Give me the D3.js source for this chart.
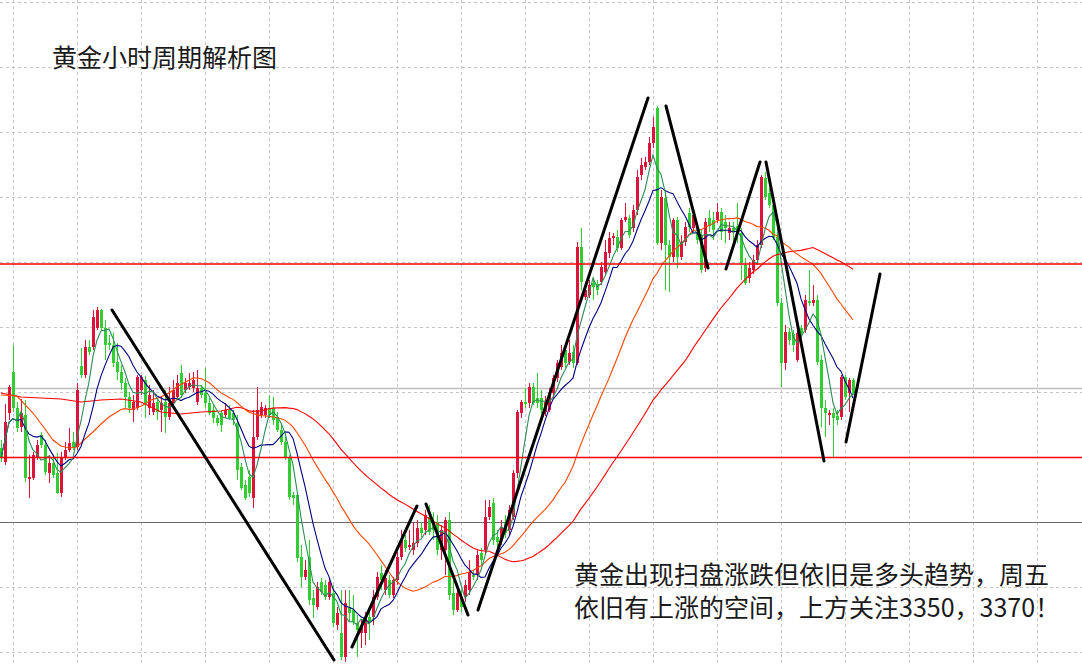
<!DOCTYPE html>
<html><head><meta charset="utf-8">
<script src="https://cdn.jsdelivr.net/npm/d3@7"></script>
<style>html,body{margin:0;padding:0;background:#fff;overflow:hidden}svg{display:block}</style>
</head><body><div id="chart"></div>
<script>
// ---------------- DATA (hourly gold, bar index 0..213) ----------------
const opens = [
3310.4,3307.6,3317.4,3325.6,3318.4,3314.6,3317,3304.2,3304.4,3308.6,
3313,3311,3305.4,3307.4,3305.4,3301.4,3308.6,3310,3311.6,3310.6,
3326.8,3325,3330.6,3330.6,3334.4,3338,3334.4,3331.4,3331,3327.6,
3325.6,3323.4,3320.6,3318,3318.4,3322,3324,3318.4,3317.6,3319.6,
3318,3319.6,3316.6,3319.4,3320.6,3325.4,3322,3322.6,3322.4,3319.6,
3322.4,3321.4,3319.4,3318,3316.4,3317.4,3317,3318,3317.4,3315.4,
3306.6,3303,3304.6,3300.4,3312.6,3317,3317,3318.4,3318.4,3316.6,
3314,3311.6,3308.4,3301,3301,3288.6,3284.6,3288.6,3280.4,3278.6,
3283.6,3283,3280.6,3281.4,3275,3273.4,3268.6,3278.6,3278,3275.4,
3273.4,3273.4,3276.6,3276.6,3280.6,3285.4,3282,3284,3281,3284,
3288.6,3292,3290.6,3290,3291.4,3294.4,3294,3296.6,3295.6,3295.4,
3290,3290,3296,3281.4,3278,3280.6,3280.6,3282,3285,3285,
3289.4,3290,3296.6,3299.4,3292.6,3292,3295.4,3294,3296.6,3305.4,
3317.4,3319.6,3319.4,3322.6,3320.4,3320.4,3317.6,3318,3321.4,3324.4,
3326.6,3330,3327.6,3329.6,3327.4,3350.6,3340.6,3341,3343.4,3343.2,
3343.6,3345.6,3349.4,3352.4,3352.6,3350.4,3356,3356.4,3354.4,3358,
3365,3366.6,3367.6,3371.4,3378.4,3351.4,3360.4,3351,3348.6,3356,
3348.6,3351.6,3357.4,3354.4,3353.6,3353,3346.4,3356.4,3356,3356,
3357.6,3355.6,3353.4,3354.4,3354.8,3353.4,3347,3344.4,3346,3348,
3351,3364.4,3361.4,3359,3352.6,3339.4,3327.4,3333.6,3333.2,3328,
3334.4,3334,3339.8,3339.4,3340,3328,3318.4,3317,3317.4,3316.8,
3316.6,3324.6,3321.4,3324];
const highs = [
3312,3319.2,3323,3331,3319.6,3320.2,3320,3309,3309.6,3312,
3313.6,3312,3309,3308.4,3309.4,3309.6,3311.6,3314.4,3313.6,3323.4,
3330.4,3332,3332,3338,3338.6,3338.2,3336,3333,3333.4,3331.4,
3327,3324.4,3321.6,3321,3325,3325,3324.8,3323,3322,3320.4,
3320.6,3322,3322.6,3324,3325,3327,3324.4,3325.4,3325.6,3326,
3323,3326.4,3320.4,3319,3317,3318,3319.4,3319,3318,3317,
3307.4,3304,3306,3318,3322.6,3319.6,3319,3321,3320.6,3317.6,
3315,3313,3309,3301.6,3301.4,3291,3288,3292,3282,3283.6,
3284.4,3284,3284.4,3283,3278.6,3282,3282,3282,3281,3277,
3276,3277.6,3278,3282,3285.6,3287,3286,3285,3284.6,3289.6,
3294,3293,3294,3295.6,3296,3295.6,3298,3299,3297.6,3297,
3295,3296.6,3297.6,3285,3283,3282,3284,3288,3286,3290,
3290.4,3300,3300,3300.4,3294,3296,3297,3299,3306,3318,
3320,3322.4,3323.4,3323.4,3325.4,3322,3320.8,3322.4,3325,3328,
3331,3331,3332,3331,3351.6,3354.4,3343.4,3344,3344.6,3344,
3347.6,3352,3353.6,3353.4,3354,3356.4,3359.4,3357,3359,3366,
3368.4,3368.6,3372.6,3376.6,3378.8,3362,3362,3352,3356.4,3356.6,
3353,3355.6,3358.4,3358,3355,3354,3356.4,3358,3357.6,3359.4,
3358.4,3357,3355.6,3355.6,3359.4,3354.4,3348.4,3347.6,3349,3352,
3365,3365.6,3362.4,3360,3353.6,3340.4,3335,3334.4,3334,3334.4,
3335,3341,3346,3343,3341,3329,3320,3318,3318.4,3318,
3325,3325,3324.4,3324.4];
const lows = [
3307.6,3307,3316,3317.6,3313.6,3313.6,3303.6,3300.4,3304,3308,
3310.4,3305,3303.4,3304.4,3301.2,3300.6,3308,3309.6,3310,3310,
3324.4,3324.4,3329,3330,3334,3334,3328,3330,3326.6,3324,
3322,3318.4,3317.4,3315.6,3318,3321,3316.4,3317,3317,3316,
3313.6,3313.4,3316,3318.8,3320,3320.4,3321.4,3322,3321.6,3319,
3320.4,3318.4,3317,3315.4,3314.8,3313.6,3316.4,3316,3315,3304,
3302,3300,3300.6,3298.4,3312,3316.4,3316.4,3316.4,3315,3313.6,
3311,3308,3300,3299,3287.6,3282.6,3284,3279,3276.4,3278,
3281,3280,3280,3274.6,3274,3268,3267.6,3275.6,3275,3268.6,
3270.4,3271,3272,3275,3280,3282,3281,3280.4,3280.4,3283,
3288,3289.6,3290,3289,3290.6,3292.6,3293,3293,3292,3289,
3288,3285,3280,3277,3277.6,3277.6,3279.6,3281,3284,3284,
3287,3289,3296,3291,3290.4,3291,3292.4,3293,3296,3304.4,
3316.4,3318.4,3318.4,3319,3318.4,3317.2,3316.8,3317.6,3320.4,3323.6,
3326,3326.4,3327,3326.4,3327,3342,3340,3340.4,3340,3341,
3343,3345,3348.4,3351,3349.6,3350,3355.6,3352.4,3353.6,3357,
3364,3366,3367,3370.4,3351,3350,3342,3341.6,3347.6,3346.4,
3348,3350.8,3353.6,3353.6,3351.2,3345.4,3345.6,3353.6,3352,3355.4,
3352,3351.4,3352,3351,3351.4,3344,3343,3343.4,3345.2,3347,
3350.4,3360,3358.4,3352,3338.8,3322.6,3326,3331,3329.6,3327.6,
3332.4,3333.4,3338.8,3338.8,3327,3314.6,3312.6,3315,3308.6,3315,
3316,3320,3317.6,3321];
const closes = [
3308.4,3315.6,3322.6,3318.4,3314.4,3317.4,3304.4,3304.6,3309,3311,
3311,3305.6,3307.4,3305,3301.4,3308.6,3310,3311.4,3310.6,3322,
3325,3330.6,3329.6,3336.6,3338,3334.4,3331,3331,3327.4,3325.6,
3323.4,3320.6,3318.4,3319.6,3324.6,3324.6,3319,3321,3319.4,3317.6,
3319.4,3316.6,3319.4,3322,3323.4,3321,3323.4,3323.4,3324,3322.4,
3321,3319.4,3317.4,3316.4,3315.4,3315,3318,3316.4,3316,3306,
3302.4,3300.4,3301.4,3312.6,3318,3318.6,3318.4,3317,3316,3314,
3311.6,3308.6,3300.6,3300.4,3288.4,3284.6,3286,3280,3279,3282.6,
3281.6,3280.6,3283.6,3275.4,3277.4,3268.6,3279.4,3277.4,3275.6,3274,
3274.6,3276.6,3275.4,3280.6,3284.6,3284,3284.4,3281,3284,3288.6,
3292,3290.4,3291,3291.4,3294.4,3293.4,3297,3293.6,3294,3290,
3294,3296,3281,3278,3281.4,3278.6,3283,3285.6,3284.6,3289,
3288,3296.6,3298.6,3292,3291.6,3294.6,3293.4,3298,3305.4,3317.6,
3319.6,3319.2,3322.6,3319.4,3319.4,3318,3319.6,3321.4,3324.4,3327.4,
3329.4,3327.4,3329.4,3327.4,3350.6,3343.6,3342,3343,3342.6,3342,
3346.6,3349.6,3352.4,3352.8,3350.4,3356,3356.6,3353,3358,3364.6,
3367,3367.6,3371.4,3374.6,3351.4,3360.6,3351,3348.6,3356,3348.6,
3351.6,3354.6,3354.6,3357,3352,3346,3355.6,3354.8,3354,3357.6,
3353.6,3354.4,3354.4,3353.6,3353.6,3347.4,3343.4,3346.4,3348,3351,
3364.6,3360.6,3359,3352.4,3339.4,3327.4,3333.6,3332,3331,3333.4,
3333.4,3340,3339.4,3340,3327.6,3318.4,3317.4,3317.4,3316.4,3316,
3324.6,3320.6,3324,3321.4];

// slow MAs before enough visible bars exist
const ma30EarlyIdx = [0,4,8,11,13,15,17,19,21,23,25,27];
const ma30EarlyVal = [3321,3320.8,3317.4,3314.2,3312,3310.8,3310.4,3310.6,3312.2,3313.6,3315.2,3316.6];
const ma60EarlyIdx = [0,5,10,15,20,25,30,35,38,40,45,50,55];
const ma60EarlyVal = [3321.4,3320.6,3320.4,3320.2,3319.6,3320,3320.2,3319.6,3318.4,3317.6,3317.2,3317.6,3317.8];

// horizontal levels
const redLevels = [3347.2, 3308.5];
const bidPrice = 3322.3;
const darkLevel = 3295.5;

// hand-drawn trend lines: [startBar, startPrice, endBar, endPrice]
const trendLines = [
  [27.75,3338,83.25,3268],
  [87.75,3270.6,104,3298.8],
  [106.25,3299.2,116.75,3277],
  [119.25,3278,161.75,3380.4],
  [166.25,3378.8,176.75,3346.4],
  [181.25,3346.2,189.75,3367.6],
  [191.25,3367.6,205.75,3307.8],
  [211.25,3311.6,219.75,3345.2]
];

const titleText = "黄金小时周期解析图";
const noteLines = ["黄金出现扫盘涨跌但依旧是多头趋势，周五","依旧有上涨的空间，上方关注3350，3370！"];

// ---------------- CHART ----------------
const W = 1082, H = 664;
const x = d3.scaleLinear().domain([0, 213]).range([1, 853]);
const y = d3.scaleLinear().domain([3400, 3267.2]).range([0, H]);

const svg = d3.select('#chart').append('svg').attr('width', W).attr('height', H);
svg.append('rect').attr('width', W).attr('height', H).attr('fill', '#fff');

// grid
const vIdx = d3.range(3, 272, 16);
const hPrices = d3.range(0, 11).map(k => 3399.54 - 13 * k);
const grid = svg.append('g').attr('stroke', '#c4c4c4').attr('stroke-dasharray', '3,3').attr('shape-rendering', 'crispEdges');
grid.selectAll('line.v').data(vIdx).join('line').attr('class', 'v')
  .attr('x1', d => Math.round(x(d)) + 0.5).attr('x2', d => Math.round(x(d)) + 0.5)
  .attr('y1', 0).attr('y2', H);
grid.selectAll('line.h').data(hPrices).join('line').attr('class', 'h')
  .attr('y1', d => Math.round(y(d)) + 0.5).attr('y2', d => Math.round(y(d)) + 0.5)
  .attr('x1', 0).attr('x2', W);

// bid line and dark level
svg.append('line').attr('x1', 0).attr('x2', W)
  .attr('y1', y(bidPrice)).attr('y2', y(bidPrice))
  .attr('stroke', '#bdbdbd').attr('stroke-width', 1.3);
svg.append('line').attr('x1', 0).attr('x2', W)
  .attr('y1', Math.round(y(darkLevel)) + 0.5).attr('y2', Math.round(y(darkLevel)) + 0.5)
  .attr('stroke', '#6a6a6a').attr('stroke-width', 1).attr('shape-rendering', 'crispEdges');

// candles
const bars = opens.map((o, i) => ({
  i, o, c: closes[i],
  h: Math.max(highs[i], o, closes[i]),
  l: Math.min(lows[i], o, closes[i])
}));
const UP = '#dc143c', DN = '#32cd32';
const cg = svg.append('g').attr('shape-rendering', 'crispEdges');
cg.selectAll('line').data(bars).join('line')
  .attr('x1', d => Math.round(x(d.i)) + 0.5).attr('x2', d => Math.round(x(d.i)) + 0.5)
  .attr('y1', d => y(d.h)).attr('y2', d => y(d.l))
  .attr('stroke', d => d.c > d.o ? UP : DN).attr('stroke-width', 1);
cg.selectAll('rect').data(bars).join('rect')
  .attr('x', d => Math.round(x(d.i)) - 1).attr('width', 3)
  .attr('y', d => y(Math.max(d.o, d.c)))
  .attr('height', d => Math.max(1, Math.abs(y(d.o) - y(d.c))))
  .attr('fill', d => d.c > d.o ? UP : DN);

// moving averages
function sma(n, from) {
  const out = [];
  for (let i = from; i < closes.length; i++) {
    const s = Math.max(0, i - n + 1);
    out.push([i, d3.mean(closes.slice(s, i + 1))]);
  }
  return out;
}
const ma5 = sma(5, 0);
const ma10 = sma(10, 0);
const ma30 = ma30EarlyIdx.map((d, k) => [d, ma30EarlyVal[k]]).concat(sma(30, 29));
const ma60 = ma60EarlyIdx.map((d, k) => [d, ma60EarlyVal[k]]).concat(sma(60, 59));
const line = d3.line().x(d => x(d[0])).y(d => y(d[1]));
const mas = [[ma60, '#ff0000'], [ma30, '#ff4500'], [ma10, '#000080'], [ma5, '#2e8b57']];
svg.append('g').selectAll('path').data(mas).join('path')
  .attr('d', d => line(d[0])).attr('fill', 'none')
  .attr('stroke', d => d[1]).attr('stroke-width', 1.1);

// red horizontal levels
svg.append('g').selectAll('line').data(redLevels).join('line')
  .attr('x1', 0).attr('x2', W)
  .attr('y1', d => y(d)).attr('y2', d => y(d))
  .attr('stroke', '#ff0000').attr('stroke-width', 1.4);

// trend lines
svg.append('g').selectAll('line').data(trendLines).join('line')
  .attr('x1', d => x(d[0])).attr('y1', d => y(d[1]))
  .attr('x2', d => x(d[2])).attr('y2', d => y(d[3]))
  .attr('stroke', '#000').attr('stroke-width', 3).attr('stroke-linecap', 'round');

// texts
const font = '"Noto Sans CJK SC","Noto Sans",sans-serif';
svg.append('text').attr('x', 52).attr('y', 67)
  .attr('font-family', font).attr('font-size', 25).attr('fill', '#1a1a1a')
  .text(titleText);
svg.append('g').selectAll('text').data(noteLines).join('text')
  .attr('x', 574).attr('y', (d, k) => 583.5 + k * 33.5)
  .attr('font-family', font).attr('font-size', 25).attr('fill', '#1a1a1a')
  .text(d => d);
</script>
</body></html>
